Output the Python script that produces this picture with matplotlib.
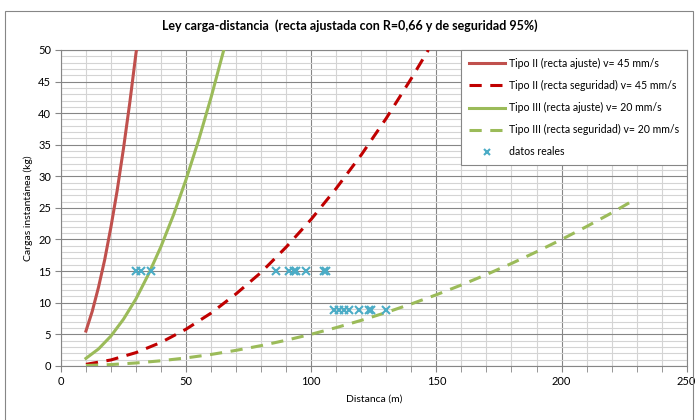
import matplotlib.pyplot as plt
from matplotlib.patches import Rectangle
from matplotlib.ticker import MultipleLocator

plt.rcParams['font.family'] = ['Lato', 'DejaVu Sans']

# Tipo II, recta ajuste (v = 45 mm/s)
dist_t2_aj = [10, 12.5, 15, 17.5, 20, 22.5, 25, 27.5, 30, 30.2]
carga_t2_aj = [5.5, 8.6, 12.4, 16.8, 22.0, 27.8, 34.4, 41.6, 49.5, 50.0]

# Tipo II, recta seguridad (v = 45 mm/s)
dist_t2_seg = [10, 20, 30, 40, 50, 60, 70, 80, 90, 100, 110, 120, 130, 140, 146.8]
carga_t2_seg = [0.23, 0.93, 2.09, 3.71, 5.8, 8.35, 11.4, 14.8, 18.8, 23.2, 28.1, 33.4, 39.2, 45.5, 50.0]

# Tipo III, recta ajuste (v = 20 mm/s)
dist_t3_aj = [10, 15, 20, 25, 30, 35, 40, 45, 50, 55, 60, 65, 65.1]
carga_t3_aj = [1.18, 2.66, 4.72, 7.38, 10.6, 14.5, 18.9, 23.9, 29.5, 35.7, 42.5, 49.9, 50.0]

# Tipo III, recta seguridad (v = 20 mm/s)
dist_t3_seg = [10, 20, 30, 40, 50, 60, 70, 80, 90, 100, 110, 120, 130, 140, 150,
               160, 170, 180, 190, 200, 210, 220, 227]
carga_t3_seg = [0.05, 0.2, 0.45, 0.8, 1.25, 1.8, 2.45, 3.2, 4.05, 5.0, 6.05, 7.2, 8.45,
                9.8, 11.25, 12.8, 14.45, 16.2, 18.05, 20.0, 22.05, 24.2, 25.8]

# datos reales
dist_datos = [30, 32, 36, 86, 91, 93, 94, 98, 105, 106,
              109, 111, 113, 115, 119, 123, 124, 130]
carga_datos = [15, 15, 15, 15, 15, 15, 15, 15, 15, 15,
               8.9, 8.9, 8.9, 8.9, 8.9, 8.9, 8.9, 8.9]

rojo = '#C0504D'
rojo_osc = '#C00000'
verde = '#9BBB59'
cian = '#4BACC6'
gris = '#868686'

fig = plt.figure(figsize=(7, 4.2), dpi=100)
ax = fig.add_axes([0.087, 0.129, 0.894, 0.752])

lw = 2.2
ax.plot(dist_t2_aj, carga_t2_aj, color=rojo, lw=lw,
        label='Tipo II (recta ajuste) v= 45 mm/s', zorder=3)
ax.plot(dist_t2_seg, carga_t2_seg, color=rojo_osc, lw=lw, dashes=(4, 2.8),
        dash_capstyle='butt', label='Tipo II (recta seguridad) v= 45 mm/s', zorder=3)
ax.plot(dist_t3_aj, carga_t3_aj, color=verde, lw=lw,
        label='Tipo III (recta ajuste) v= 20 mm/s', zorder=3)
ax.plot(dist_t3_seg, carga_t3_seg, color=verde, lw=lw, dashes=(4, 2.8),
        dash_capstyle='butt', label='Tipo III (recta seguridad) v= 20 mm/s', zorder=3)
ax.plot(dist_datos, carga_datos, ls='none', marker='x', ms=6, mew=1.5, color=cian,
        label='datos reales', zorder=4)

ax.set_xlim(0, 250)
ax.set_ylim(0, 50)
ax.xaxis.set_major_locator(MultipleLocator(50))
ax.xaxis.set_minor_locator(MultipleLocator(10))
ax.yaxis.set_major_locator(MultipleLocator(5))
ax.yaxis.set_minor_locator(MultipleLocator(1))

ax.grid(which='major', color=gris, lw=0.8, zorder=0)
ax.grid(which='minor', color='#D4D4D4', lw=0.8, zorder=0)
ax.set_axisbelow(True)

for s in ax.spines.values():
    s.set_color(gris)
    s.set_linewidth(0.8)
ax.tick_params(which='major', length=4, color=gris, labelsize=8, pad=3)
ax.tick_params(axis='x', which='minor', length=4, color=gris)
ax.tick_params(axis='y', which='minor', length=0)

ax.set_xlabel('Distanca (m)', fontsize=7.5, labelpad=6)
ax.set_ylabel('Cargas instantánea (kg)', fontsize=7.5, labelpad=4)

fig.text(0.5, 0.94, 'Ley carga-distancia  (recta ajustada con R=0,66 y de seguridad 95%)',
         ha='center', va='center', fontsize=9, fontweight='bold')

leg = ax.legend(loc='upper right', bbox_to_anchor=(1.0, 1.0), fontsize=7.6,
                handlelength=3.5, labelspacing=1.05, borderpad=0.75, handletextpad=0.3,
                markerscale=0.7, fancybox=False, framealpha=1, edgecolor=gris,
                borderaxespad=0)
leg.get_frame().set_linewidth(0.8)

# chart area border
fig.patches.append(Rectangle((5 / 700, -0.01), 688 / 700, 1 - 11 / 420 + 0.01,
                             transform=fig.transFigure, fill=False,
                             edgecolor=gris, lw=0.8))

fig.savefig('out.png', dpi=100)
